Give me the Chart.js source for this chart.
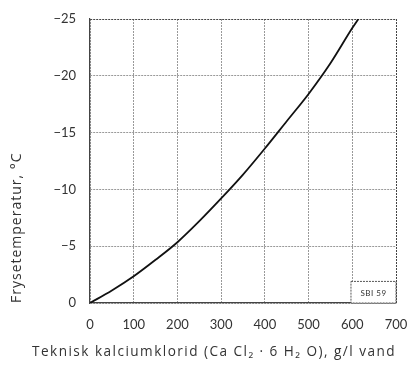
<!DOCTYPE html>
<html>
<head>
<meta charset="utf-8">
<script src="https://cdn.jsdelivr.net/npm/chart.js@4"></script>
<style>
  html, body { margin: 0; padding: 0; background: #fff; }
  #wrap { width: 410px; height: 368px; }
</style>
</head>
<body>
<div id="wrap"><canvas id="myChart" width="410" height="368"></canvas></div>
<script>
// data
const mengde = [0, 50, 100, 150, 200, 250, 300, 350, 400, 450, 500, 550, 600, 614];
const temperatur = [0, -1.1, -2.35, -3.8, -5.35, -7.2, -9.2, -11.3, -13.6, -16.0, -18.4, -21.1, -24.2, -25];
const xTicks = [0, 100, 200, 300, 400, 500, 600, 700];
const yTicks = [0, -5, -10, -15, -20, -25];
const stempel = 'SBI 59';

const ctx = document.getElementById('myChart').getContext('2d');
const font = 'Lato';
const titleFont = 'Open Sans';

// aksetitlene har sperret skrift, x-tittelen er bredere enn plottet,
// og y-tittelen skal starte nederst selv om aksen er snudd
const origDrawTitle = Chart.Scale.prototype.drawTitle;
Chart.Scale.prototype.drawTitle = function(){
    const self = Object.create(this);
    self.options = { position: this.options.position, title: this.options.title, reverse: false };
    if (this.axis === 'x') self.left = 32;
    this.ctx.save();
    this.ctx.letterSpacing = this.axis === 'x' ? '1.5px' : '1px';
    origDrawTitle.call(self);
    this.ctx.restore();
};

// lite boks nederst til hoyre
const stempelPlugin = {
    id: 'stempel',
    afterDatasetsDraw(chart){
        const x = chart.scales.x, y = chart.scales.y;
        const left = x.getPixelForValue(597);
        const right = x.getPixelForValue(700);
        const top = y.getPixelForValue(-1.9);
        const bottom = y.getPixelForValue(0);
        const c = chart.ctx;
        c.save();
        c.fillStyle = '#fff';
        c.fillRect(left, top, right - left, bottom - top);
        c.strokeStyle = '#555';
        c.lineWidth = 1;
        c.setLineDash([2, 1]);
        c.strokeRect(left, top, right - left, bottom - top);
        c.setLineDash([]);
        c.fillStyle = '#333';
        c.font = '8px ' + font;
        c.letterSpacing = '0.5px';
        c.textAlign = 'center';
        c.textBaseline = 'middle';
        c.fillText(stempel, (left + right) / 2, (top + bottom) / 2 + 1);
        c.restore();
    }
};

const kantfarge = (edge) => (c) => (c.tick && c.tick.value === edge) ? '#444' : '#999';

new Chart(ctx, {
    type: 'line',
    data: {
        datasets: [{
            data: mengde.map((v, i) => ({x: v, y: temperatur[i]})),
            borderColor: '#111',
            borderWidth: 1.8,
            pointRadius: 0,
            tension: 0.4,
            cubicInterpolationMode: 'monotone'
        }]
    },
    options: {
        responsive: false,
        animation: false,
        layout: { padding: 0 },
        plugins: { legend: { display: false }, tooltip: { enabled: false } },
        scales: {
            x: {
                type: 'linear',
                min: 0, max: 700,
                afterBuildTicks: (axis) => { axis.ticks = xTicks.map(v => ({value: v})); },
                afterFit: (axis) => { axis.height = 65; axis.paddingRight = 14; axis.paddingLeft = 0; },
                grid: { color: kantfarge(700), lineWidth: 1, drawTicks: false },
                border: { color: '#444', width: 1.2, dash: [2, 1] },
                ticks: {
                    color: '#333', padding: 14,
                    font: { family: font, size: 13 }
                },
                title: {
                    display: true,
                    align: 'end',
                    text: 'Teknisk kalciumklorid (Ca Cl\u2082 \u00b7 6 H\u2082 O), g/l vand',
                    color: '#333',
                    font: { family: titleFont, size: 14 },
                    padding: { top: 8, bottom: 8 }
                }
            },
            y: {
                type: 'linear',
                reverse: true,
                min: -25, max: 0,
                afterBuildTicks: (axis) => { axis.ticks = yTicks.map(v => ({value: v})); },
                afterFit: (axis) => { axis.width = 90; axis.paddingTop = 19; axis.paddingBottom = 0; },
                grid: { color: kantfarge(-25), lineWidth: 1, drawTicks: false },
                border: { color: '#444', width: 1.2, dash: [2, 1] },
                ticks: {
                    color: '#333', padding: 14,
                    font: { family: font, size: 13 },
                    callback: (v) => v < 0 ? '\u2212' + Math.abs(v) : String(v)
                },
                title: {
                    display: true,
                    align: 'start',
                    text: 'Frysetemperatur, \u00b0C',
                    color: '#333',
                    font: { family: titleFont, size: 14 },
                    padding: { top: 9, bottom: 0 }
                }
            }
        }
    },
    plugins: [stempelPlugin]
});
</script>
</body>
</html>
